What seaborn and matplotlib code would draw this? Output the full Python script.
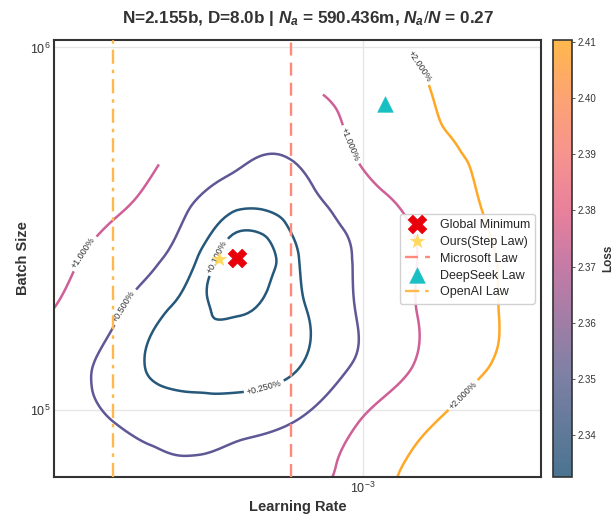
import numpy as np
import matplotlib
matplotlib.use("Agg")
import matplotlib.pyplot as plt
import matplotlib.tri as mtri
from matplotlib.colors import LinearSegmentedColormap, Normalize
from matplotlib.cm import ScalarMappable
import seaborn as sns

# learning-rate / batch-size grid of the sweep (sqrt(2) steps)
lr_values = [1.7263e-4, 2.4414e-4, 3.4527e-4, 4.8828e-4, 6.9053e-4,
             9.7656e-4, 1.3811e-3, 1.9531e-3, 2.7621e-3]
bs_values = [65536, 92682, 131072, 185364, 262144, 370728, 524288, 741455, 1048576]

nan = np.nan
# final loss, one row per batch size (bottom -> top), one column per learning rate
loss_bs_65k  = [2.3524, 2.3494, 2.3455, 2.3480, 2.3536, 2.3618, 2.3886, 2.4002, 2.4096]
loss_bs_93k  = [2.3503, 2.3442, 2.3415, 2.3419, 2.3447, 2.3559, 2.3734, 2.3932, 2.4026]
loss_bs_131k = [2.3503, 2.3414, 2.3368, 2.3366, 2.3383, 2.3457, 2.3578, 2.3767, 2.3932]
loss_bs_185k = [2.3552, 2.3450, 2.3373, 2.3347, 2.3376, 2.3447, 2.3564, 2.3723, 2.3979]
loss_bs_262k = [2.3641, 2.3489, 2.3424, 2.3326, 2.3382, 2.3450, 2.3564, 2.3734, 2.3979]
loss_bs_371k = [2.3734, 2.3594, 2.3471, 2.3396, 2.3412, 2.3489, 2.3615, 2.3793, 2.4002]
loss_bs_524k = [nan, nan, 2.3545, 2.3464, 2.3459, 2.3576, 2.3723, 2.3828, 2.3979]
loss_bs_741k = [nan, nan, nan, nan, 2.3541, 2.3611, 2.3758, 2.3909, 2.4026]
loss_bs_1m   = [nan, nan, nan, nan, nan, nan, 2.3851, 2.3979, 2.4103]

level_pcts = [0.1, 0.25, 0.5, 1.0, 2.0]

# predicted optima of the different laws
step_law = (4.42e-4, 2.62e5)
deepseek_law = (1.137e-3, 6.99e5)
microsoft_lr = 6.65e-4
openai_lr = 2.41e-4

sns.set_theme(style="whitegrid")
plt.rcParams["font.family"] = ["Liberation Sans", "DejaVu Sans"]
plt.rcParams["mathtext.fontset"] = "custom"
plt.rcParams["mathtext.rm"] = "Liberation Sans"
plt.rcParams["mathtext.it"] = "Liberation Sans:italic:bold"
plt.rcParams["mathtext.bf"] = "Liberation Sans:bold"

loss = np.array([loss_bs_65k, loss_bs_93k, loss_bs_131k, loss_bs_185k, loss_bs_262k,
                 loss_bs_371k, loss_bs_524k, loss_bs_741k, loss_bs_1m])
loss_min, loss_max = np.nanmin(loss), np.nanmax(loss)
iy, ix = np.unravel_index(np.nanargmin(loss), loss.shape)

# triangulate the measured points (log space), leaving out missing runs
LX, LY = np.meshgrid(np.log10(lr_values), np.log10(bs_values))
valid = np.isfinite(loss)
idx = np.full(loss.shape, -1)
idx[valid] = np.arange(valid.sum())
tris = []
for i in range(loss.shape[0] - 1):
    for j in range(loss.shape[1] - 1):
        quad = [idx[i, j], idx[i, j + 1], idx[i + 1, j + 1], idx[i + 1, j]]
        ok = [k for k in quad if k >= 0]
        if len(ok) == 4:
            tris += [[quad[0], quad[1], quad[2]], [quad[0], quad[2], quad[3]]]
        elif len(ok) == 3:
            tris.append(ok)
triang = mtri.Triangulation(LX[valid], LY[valid], tris)
interp = mtri.CubicTriInterpolator(triang, loss[valid], kind="min_E")
fine_tri, fine_loss = mtri.UniformTriRefiner(triang).refine_field(
    loss[valid], triinterpolator=interp, subdiv=4)
plot_tri = mtri.Triangulation(10 ** fine_tri.x, 10 ** fine_tri.y, fine_tri.triangles)

fig = plt.figure(figsize=(6.16, 5.16), dpi=100)
ax = fig.add_axes([54 / 616, 39 / 516, 487 / 616, 437 / 516])
cax = fig.add_axes([553 / 616, 39 / 516, 19 / 616, 437 / 516])

ax.set_xscale("log")
ax.set_yscale("log")
ax.set_xlim(lr_values[0], lr_values[-1])
ax.set_ylim(bs_values[0], bs_values[-1])

levels = loss_min * (1 + np.array(level_pcts) / 100)
line_colors = ["#25587a", "#25587a", "#5f5896", "#cf5f97", "#ffa826"]
cs = ax.tricontour(plot_tri, fine_loss, levels=levels, colors=line_colors, linewidths=1.8)
fmt = {lv: f"+{p:.3f}%" for lv, p in zip(cs.levels, level_pcts)}
label_pos = [(4.27e-4, 2.68e5), (5.67e-4, 1.19e5), (2.54e-4, 1.95e5), (2.08e-4, 2.68e5),
             (9.16e-4, 5.35e5), (1.387e-3, 8.89e5), (1.793e-3, 1.089e5)]
ax.clabel(cs, fmt=fmt, fontsize=6.5, colors="#333333", manual=label_pos, inline=True,
          inline_spacing=3)

sns.scatterplot(x=[lr_values[ix]], y=[bs_values[iy]], marker="X", s=180, color="#e8000b",
                edgecolor="#e8000b", linewidth=0.5, label="Global Minimum", ax=ax, zorder=6)
sns.scatterplot(x=[step_law[0]], y=[step_law[1]], marker="*", s=120, color="#ffd95e",
                edgecolor="#ffd95e", linewidth=0.3, label="Ours(Step Law)", ax=ax, zorder=6)
ax.axvline(microsoft_lr, color="#ff8a7a", ls=(0, (5.5, 3)), lw=1.7, label="Microsoft Law", zorder=4)
sns.scatterplot(x=[deepseek_law[0]], y=[deepseek_law[1]], marker="^", s=130, color="#18c0c4",
                edgecolor="#18c0c4", linewidth=0.3, label="DeepSeek Law", ax=ax, zorder=6)
ax.axvline(openai_lr, color="#ffb84d", ls=(0, (6, 2.5, 1.5, 2.5)), lw=1.7, label="OpenAI Law", zorder=4)

handles, labels = ax.get_legend_handles_labels()
order = ["Global Minimum", "Ours(Step Law)", "Microsoft Law", "DeepSeek Law", "OpenAI Law"]
hmap = dict(zip(labels, handles))
ax.legend([hmap[k] for k in order], order, loc="center right", fontsize=9, frameon=True,
          framealpha=0.9, edgecolor="#cccccc", labelspacing=0.4, borderpad=0.4)

ax.grid(True, which="major", color="#e6e6e6", lw=1)
ax.grid(False, which="minor")
ax.tick_params(axis="both", which="both", length=0, pad=2.5, labelsize=9, colors="#333333")
for sp in ax.spines.values():
    sp.set_edgecolor("#333333")
    sp.set_linewidth(1.5)
ax.set_xlabel("Learning Rate", fontsize=10.5, fontweight="bold", color="#333333", labelpad=3)
ax.set_ylabel("Batch Size", fontsize=10.5, fontweight="bold", color="#333333", labelpad=0)
fig.suptitle(r"N=2.155b, D=8.0b | $N_a$ = 590.436m, $N_a/N$ = 0.27",
             x=0.5, y=0.983, va="top", fontsize=12.3, fontweight="bold", color="#333333")

cbar_cmap = LinearSegmentedColormap.from_list("loss", [
    (0.0, "#4a7490"), (0.23, "#7d80a5"), (0.48, "#c47ba6"), (0.61, "#e8809c"),
    (0.74, "#f7938e"), (0.87, "#fca373"), (1.0, "#ffb84d")])
sm = ScalarMappable(norm=Normalize(vmin=loss_min, vmax=loss_max), cmap=cbar_cmap)
cb = fig.colorbar(sm, cax=cax)
cb.set_ticks(np.arange(2.34, 2.4101, 0.01))
cb.ax.set_yticklabels([f"{t:.2f}" for t in np.arange(2.34, 2.4101, 0.01)])
cb.set_label("Loss", fontsize=8.5, fontweight="bold", color="#333333", labelpad=4)
cb.outline.set_edgecolor("#333333")
cb.outline.set_linewidth(1.2)
cax.grid(False)
cax.tick_params(right=True, length=2.5, width=0.6, labelsize=7, colors="#333333", pad=1.5)

fig.savefig("out.png", dpi=100)
